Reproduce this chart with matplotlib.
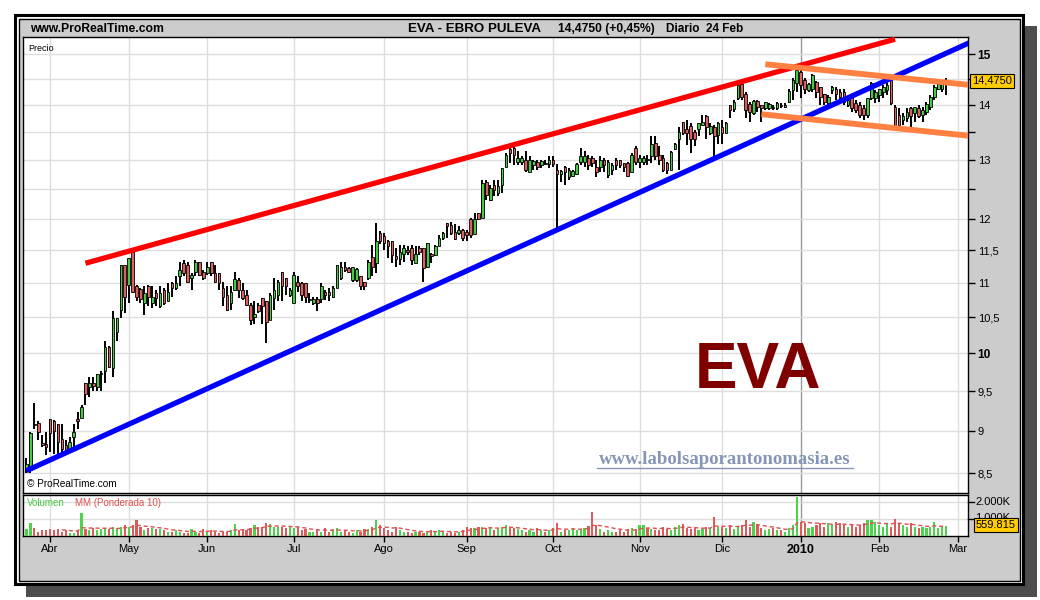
import matplotlib
matplotlib.use('Agg')
import matplotlib.pyplot as plt
import matplotlib.transforms as mtransforms
from matplotlib.patches import Rectangle
from matplotlib.lines import Line2D
import numpy as np
import pandas as pd

plt.rcParams['font.family'] = ['Liberation Sans', 'DejaVu Sans']

# sesiones: EVA diario, 24 mar 2009 - 24 feb 2010
festivos = ['2009-04-10', '2009-04-13', '2009-05-01', '2009-12-24',
            '2009-12-25', '2009-12-31', '2010-01-01']

aperturas = [
    8.54, 8.54, 9.09, 9.10, 8.86, 8.84, 9.15, 9.12, 9.09, 8.90,
    8.83, 8.77, 8.93, 9.15, 9.16, 9.60, 9.55, 9.61, 9.55, 9.72,
    9.76, 10.09, 9.80, 10.30, 10.61, 11.27, 10.97, 11.47, 10.96, 10.91,
    10.70, 10.96, 10.70, 10.86, 10.66, 10.90, 10.73, 11.00, 10.92, 11.11,
    11.30, 11.27, 11.07, 11.17, 11.32, 11.17, 11.15, 11.32, 11.15, 11.15,
    10.92, 10.82, 10.70, 10.90, 11.05, 10.90, 10.82, 10.68, 10.50, 10.68,
    10.78, 10.73, 10.46, 10.78, 10.82, 11.17, 11.07, 10.82, 10.70, 11.02,
    11.00, 11.00, 10.75, 10.70, 10.77, 10.76, 10.87, 10.87, 10.80, 10.92,
    11.07, 11.25, 11.22, 11.04, 11.04, 11.10, 11.02, 11.07, 11.40, 11.30,
    11.77, 11.72, 11.64, 11.64, 11.41, 11.37, 11.45, 11.50, 11.53, 11.31,
    11.53, 11.53, 11.25, 11.44, 11.43, 11.56, 11.69, 11.94, 11.90, 11.79,
    11.78, 11.82, 11.79, 12.00, 11.75, 12.09, 12.02, 12.62, 12.31, 12.57,
    12.43, 12.57, 12.88, 13.19, 13.21, 12.97, 12.97, 13.00, 12.79, 12.91,
    12.97, 12.91, 12.95, 12.93, 13.00, 12.82, 12.75, 12.88, 12.70, 12.72,
    12.76, 12.97, 12.97, 13.03, 13.03, 12.88, 12.88, 13.00, 12.73, 12.82,
    13.00, 13.00, 12.94, 12.94, 12.79, 13.21, 12.97, 12.97, 13.02, 13.06,
    13.30, 13.09, 13.03, 12.94, 12.82, 13.19, 13.38, 13.69, 13.55, 13.61,
    13.50, 13.55, 13.63, 13.79, 13.48, 13.60, 13.45, 13.60, 13.48, 14.00,
    13.93, 14.14, 14.40, 14.22, 14.02, 13.85, 14.08, 14.00, 13.95, 13.94,
    13.97, 13.94, 14.00, 13.97, 14.07, 14.29, 14.42, 14.65, 14.49, 14.29,
    14.32, 14.45, 14.35, 14.21, 14.04, 14.29, 14.32, 14.26, 14.26, 14.00,
    14.16, 14.04, 14.00, 13.94, 13.82, 14.13, 14.13, 14.19, 14.26, 14.29,
    14.49, 13.97, 13.82, 13.72, 13.76, 13.94, 13.85, 13.94, 13.82, 13.88,
    13.97, 14.16, 14.32, 14.32, 14.44,
]
maximos = [
    8.68, 8.99, 9.35, 9.12, 8.95, 8.99, 9.15, 9.14, 9.09, 9.09,
    8.89, 8.93, 9.09, 9.24, 9.32, 9.61, 9.69, 9.69, 9.73, 9.76,
    10.17, 10.10, 10.59, 10.49, 11.27, 11.27, 11.38, 11.48, 10.97, 10.92,
    10.95, 10.97, 10.95, 10.90, 10.95, 10.92, 11.00, 11.01, 11.10, 11.32,
    11.35, 11.32, 11.15, 11.35, 11.32, 11.20, 11.32, 11.32, 11.27, 11.15,
    11.02, 10.95, 10.95, 11.17, 11.07, 11.00, 10.90, 10.70, 10.73, 10.70,
    10.78, 10.73, 10.85, 11.07, 11.05, 11.17, 11.07, 10.92, 11.17, 11.10,
    11.01, 11.00, 10.85, 10.80, 10.80, 11.00, 10.90, 10.92, 10.95, 11.27,
    11.32, 11.32, 11.24, 11.24, 11.22, 11.10, 11.02, 11.35, 11.58, 11.94,
    11.80, 11.77, 11.66, 11.64, 11.53, 11.58, 11.58, 11.56, 11.58, 11.56,
    11.56, 11.53, 11.61, 11.46, 11.58, 11.74, 11.79, 11.94, 11.95, 11.91,
    11.88, 11.84, 11.82, 12.02, 12.09, 12.09, 12.65, 12.65, 12.57, 12.65,
    12.65, 12.85, 13.12, 13.21, 13.24, 13.15, 13.06, 13.15, 13.06, 13.00,
    13.00, 13.00, 13.00, 13.07, 13.07, 12.93, 12.82, 12.89, 12.85, 12.82,
    12.94, 13.21, 13.15, 13.09, 13.06, 13.00, 13.06, 13.03, 13.00, 12.94,
    13.03, 13.00, 12.95, 12.97, 13.12, 13.24, 13.09, 13.06, 13.09, 13.42,
    13.42, 13.24, 13.09, 12.97, 13.15, 13.30, 13.60, 13.69, 13.72, 13.66,
    13.54, 13.66, 13.82, 13.82, 13.66, 13.63, 13.69, 13.72, 13.69, 14.00,
    14.10, 14.42, 14.42, 14.26, 14.07, 14.10, 14.10, 14.00, 14.07, 14.04,
    14.00, 14.07, 14.04, 14.04, 14.32, 14.52, 14.68, 14.68, 14.52, 14.42,
    14.60, 14.47, 14.35, 14.22, 14.19, 14.37, 14.35, 14.32, 14.32, 14.13,
    14.19, 14.10, 14.07, 14.00, 14.13, 14.45, 14.29, 14.32, 14.39, 14.45,
    14.49, 14.00, 13.94, 13.85, 13.94, 13.97, 13.97, 14.00, 13.97, 14.07,
    14.19, 14.39, 14.42, 14.42, 14.52,
]
minimos = [
    8.50, 8.50, 9.03, 8.89, 8.81, 8.71, 8.75, 8.73, 8.73, 8.73,
    8.71, 8.77, 8.81, 9.03, 9.16, 9.32, 9.43, 9.50, 9.50, 9.50,
    9.61, 9.80, 9.69, 10.17, 10.49, 10.56, 10.70, 10.85, 10.73, 10.70,
    10.53, 10.66, 10.63, 10.66, 10.63, 10.68, 10.73, 10.80, 10.90, 10.95,
    11.10, 11.00, 10.90, 11.10, 11.10, 11.05, 11.12, 11.10, 11.00, 10.90,
    10.66, 10.59, 10.61, 10.90, 10.78, 10.75, 10.66, 10.39, 10.41, 10.56,
    10.41, 10.14, 10.46, 10.61, 10.73, 10.73, 10.82, 10.80, 10.70, 10.87,
    10.73, 10.70, 10.70, 10.68, 10.59, 10.70, 10.75, 10.73, 10.78, 10.92,
    11.05, 11.17, 11.15, 11.02, 11.02, 10.90, 10.90, 11.05, 11.10, 11.15,
    11.60, 11.50, 11.38, 11.30, 11.25, 11.27, 11.32, 11.43, 11.27, 11.30,
    11.43, 11.02, 11.22, 11.30, 11.41, 11.56, 11.66, 11.70, 11.74, 11.66,
    11.74, 11.64, 11.64, 11.70, 11.74, 11.98, 12.02, 12.31, 12.29, 12.38,
    12.38, 12.43, 12.88, 12.94, 12.91, 12.91, 12.91, 12.79, 12.79, 12.82,
    12.82, 12.85, 12.91, 12.85, 12.88, 11.82, 12.62, 12.57, 12.65, 12.70,
    12.73, 12.91, 12.88, 12.82, 12.88, 12.70, 12.79, 12.79, 12.68, 12.73,
    12.82, 12.85, 12.79, 12.70, 12.79, 12.91, 12.85, 12.91, 12.91, 12.94,
    13.00, 12.91, 12.79, 12.76, 12.82, 13.17, 12.82, 13.45, 13.26, 13.12,
    13.24, 13.42, 13.63, 13.38, 13.45, 13.06, 13.28, 13.28, 13.48, 13.76,
    13.88, 14.10, 14.10, 13.76, 13.69, 13.82, 13.88, 13.69, 13.91, 13.91,
    13.91, 13.91, 13.94, 13.94, 14.04, 14.10, 14.26, 14.13, 14.22, 14.26,
    14.26, 14.13, 14.00, 14.00, 13.97, 14.22, 14.10, 14.07, 14.00, 13.97,
    13.88, 13.85, 13.76, 13.72, 13.76, 14.10, 14.04, 14.07, 14.13, 14.19,
    14.00, 13.60, 13.60, 13.63, 13.69, 13.60, 13.69, 13.76, 13.69, 13.82,
    13.91, 14.10, 14.29, 14.26, 14.20,
]
cierres = [
    8.61, 8.98, 9.07, 8.99, 8.83, 8.81, 8.98, 9.00, 8.87, 8.79,
    8.77, 8.87, 8.99, 9.12, 9.30, 9.47, 9.61, 9.57, 9.72, 9.74,
    10.09, 9.82, 10.49, 10.49, 11.27, 10.80, 11.38, 10.87, 10.80, 10.76,
    10.85, 10.80, 10.80, 10.78, 10.85, 10.70, 10.87, 10.92, 11.00, 11.20,
    11.15, 11.02, 11.12, 11.32, 11.12, 11.07, 11.25, 11.15, 11.02, 11.00,
    10.80, 10.61, 10.87, 11.06, 10.90, 10.78, 10.68, 10.46, 10.55, 10.59,
    10.66, 10.44, 10.82, 10.90, 11.02, 10.95, 10.95, 10.90, 11.12, 10.95,
    10.82, 10.80, 10.77, 10.77, 10.70, 10.95, 10.82, 10.82, 10.92, 11.27,
    11.25, 11.20, 11.16, 11.24, 11.21, 10.96, 10.95, 11.32, 11.25, 11.64,
    11.64, 11.62, 11.56, 11.43, 11.37, 11.47, 11.53, 11.48, 11.35, 11.44,
    11.48, 11.22, 11.61, 11.41, 11.57, 11.69, 11.77, 11.88, 11.77, 11.67,
    11.82, 11.70, 11.74, 11.74, 12.00, 12.00, 12.59, 12.40, 12.51, 12.48,
    12.54, 12.85, 13.09, 13.12, 13.09, 13.03, 13.04, 12.82, 13.00, 12.98,
    12.88, 12.98, 12.93, 13.00, 12.93, 12.76, 12.81, 12.79, 12.82, 12.81,
    12.93, 13.06, 13.06, 12.91, 12.94, 12.79, 13.00, 12.91, 12.97, 12.91,
    12.91, 12.91, 12.88, 12.71, 13.09, 12.97, 13.03, 13.03, 13.00, 13.28,
    13.06, 13.00, 12.82, 12.82, 13.14, 13.29, 13.50, 13.48, 13.48, 13.38,
    13.38, 13.66, 13.69, 13.60, 13.61, 13.42, 13.66, 13.48, 13.66, 13.91,
    14.07, 14.39, 14.16, 13.91, 13.87, 14.08, 13.97, 13.94, 14.06, 14.02,
    13.95, 14.04, 13.98, 14.00, 14.27, 14.49, 14.68, 14.39, 14.32, 14.40,
    14.58, 14.26, 14.16, 14.07, 14.16, 14.35, 14.22, 14.16, 14.07, 14.10,
    13.94, 13.91, 13.82, 13.82, 14.13, 14.42, 14.26, 14.32, 14.35, 14.39,
    14.04, 13.63, 13.63, 13.79, 13.88, 13.79, 13.97, 13.79, 13.91, 14.02,
    14.16, 14.35, 14.40, 14.41, 14.475,
]
# volumen en miles de titulos
volumen = [
    390, 740, 450, 250, 350, 350,
    390, 350, 390, 250, 350, 190, 200, 350, 1320, 390, 350, 450, 350, 390,
    450, 390, 545, 390, 545, 640,
    545, 640, 930, 545, 350, 450, 450, 390, 390, 350, 250, 250, 350, 250,
    190, 190, 390, 250, 190, 390,
    250, 350, 250, 190, 250, 250, 350, 700, 350, 390, 350, 450, 640, 545,
    545, 740, 700, 545, 545, 545, 450, 545,
    450, 545, 350, 390, 250, 250, 350, 250, 450, 250, 390, 450, 250, 350,
    250, 190, 350, 250, 390, 390, 545, 930, 640,
    450, 350, 250, 545, 350, 250, 250, 190, 250, 250, 190, 250, 350, 250,
    350, 250, 190, 250, 190, 250, 350,
    545, 450, 450, 545, 545, 450, 545, 350, 390, 545, 640, 545, 450, 390,
    350, 250, 350, 250, 450, 350, 250, 350,
    450, 780, 250, 350, 350, 450, 350, 390, 450, 600, 1380, 640, 390, 250,
    350, 250, 250, 350, 250, 390, 450, 390,
    640, 640, 450, 390, 350, 350, 545, 390, 350, 545, 640, 700, 450, 390,
    450, 350, 390, 545, 450, 1120, 545,
    545, 450, 640, 390, 545, 640, 930, 545, 840, 640, 450, 350, 390, 450,
    350, 350, 250, 450, 640, 2270,
    840, 740, 450, 545, 640, 740, 545, 740, 640, 840, 740, 640, 545, 640,
    545, 640, 740, 930, 930, 840,
    640, 545, 740, 545, 980, 740, 640, 545, 740, 545, 450, 545, 450, 545,
    840, 450, 545, 560,
]

meses = ['Abr', 'May', 'Jun', 'Jul', 'Ago', 'Sep', 'Oct', 'Nov', 'Dic',
         '2010', 'Feb', 'Mar']
precios_eje = [8.5, 9, 9.5, 10, 10.5, 11, 11.5, 12, 12.5, 13, 13.5, 14, 14.5, 15]
etiquetas_eje = ['8,5', '9', '9,5', '10', '10,5', '11', '11,5', '12', '', '13',
                 '', '14', '', '15']

# directrices: (fecha inicio, precio), (fecha fin, precio)
directriz_roja = [('2009-04-16', 11.30), ('2010-02-05', 15.31)]
directriz_azul = [('2009-03-24', 8.53), ('2010-03-04', 15.24)]
canal_sup = [('2009-12-16', 14.80), ('2010-03-04', 14.39)]
canal_inf = [('2009-12-15', 13.83), ('2010-03-04', 13.43)]

# ---------------------------------------------------------------
calendario = pd.bdate_range('2009-03-24', '2010-03-05')
calendario = calendario[~calendario.isin(pd.to_datetime(festivos))]
n = len(cierres)
x = np.arange(n)
o = np.array(aperturas)
h = np.array(maximos)
l = np.array(minimos)
c = np.array(cierres)
v = np.array(volumen, dtype=float)

pos_meses = [i for i in range(1, len(calendario))
             if calendario[i].month != calendario[i - 1].month]
idx_2010 = pos_meses[meses.index('2010')]


def a_indice(fecha):
    return calendario.get_loc(pd.Timestamp(fecha))


W, H = 1040, 600
fig = plt.figure(figsize=(W / 100, H / 100), dpi=100)
fig.patch.set_facecolor('white')


def caja(x0, y0, x1, y1):
    return [x0 / W, 1 - y1 / H, (x1 - x0) / W, (y1 - y0) / H]


def rect(x0, y0, x1, y1, **kw):
    fig.add_artist(Rectangle((x0 / W, 1 - y1 / H), (x1 - x0) / W, (y1 - y0) / H,
                             transform=fig.transFigure, **kw))


# marco con sombra
rect(26, 26, 1037, 597, facecolor='#4d4d4d', edgecolor='none', zorder=0)
rect(15, 15, 1023, 584, facecolor='white', edgecolor='black', lw=2.2, zorder=0.1)
rect(19, 19, 1020, 581, facecolor='#cccccc', edgecolor='black', lw=1, zorder=0.2)

fig.text(30 / W, 1 - 29 / H, 'www.ProRealTime.com', fontsize=8.7,
         fontweight='bold', va='center', ha='left')
fig.text(408 / W, 1 - 29 / H, 'EVA - EBRO PULEVA', fontsize=9.6,
         fontweight='bold', va='center', ha='left')
fig.text(558 / W, 1 - 29 / H, '14,4750 (+0,45%)', fontsize=8.7,
         fontweight='bold', va='center', ha='left')
fig.text(666 / W, 1 - 29 / H, 'Diario  24 Feb', fontsize=8.5,
         fontweight='bold', va='center', ha='left')

# ----- panel de precio -----
ax = fig.add_axes(caja(23, 37, 968, 492.7))
ax.set_zorder(1)
ax.set_facecolor('white')
ax.set_yscale('log')
ax.set_xlim(-0.89, 239.57)
ax.set_ylim(8.279, 15.356)

for xm in pos_meses:
    ax.axvline(xm, color='#999999' if xm == idx_2010 else '#dddddd',
               lw=1, zorder=1)
for p in precios_eje:
    ax.axhline(p, color='#dddddd', lw=1, zorder=1)

verde, rojo = '#48c848', '#dc6060'
alcista = c >= o
ax.vlines(x, l, h, color='black', lw=1.4, zorder=3)
base = np.minimum(o, c)
alto = np.maximum(np.abs(c - o), 0.012)
ax.bar(x, alto, bottom=base, width=0.66,
       color=np.where(alcista, verde, rojo), edgecolor='black', lw=0.6, zorder=4)

for linea, col, lw in [(directriz_roja, '#ff0000', 3.8), (directriz_azul, '#0000ff', 3.8),
                       (canal_sup, '#ff8040', 4.2), (canal_inf, '#ff8040', 4.2)]:
    xs = [a_indice(f) for f, _ in linea]
    ys = [p for _, p in linea]
    ax.plot(xs, ys, color=col, lw=lw, solid_capstyle='butt', zorder=5)

ax.yaxis.tick_right()
ax.yaxis.set_major_locator(matplotlib.ticker.FixedLocator(precios_eje))
ax.yaxis.set_major_formatter(matplotlib.ticker.FixedFormatter(etiquetas_eje))
ax.yaxis.set_minor_locator(matplotlib.ticker.NullLocator())
ax.tick_params(axis='y', direction='out', length=5, width=1, pad=2,
               labelsize=8, colors='black')
for t in ax.get_yticklabels():
    if t.get_text() in ('10', '15'):
        t.set_fontweight('bold')
        t.set_fontsize(8.6)
ax.set_xticks([])
for s in ax.spines.values():
    s.set_color('black')
    s.set_linewidth(1)

mezcla = mtransforms.blended_transform_factory(ax.transAxes, ax.transData)
ax.text(1.004, c[-1], '14,4750', transform=mezcla, fontsize=8, ha='left',
        va='center', zorder=10,
        bbox=dict(boxstyle='square,pad=0.18', fc='#ffcc00', ec='black', lw=0.8))

ax.text(0.006, 0.985, 'Precio', transform=ax.transAxes, fontsize=6.5,
        ha='left', va='top')
ax.text(0.004, 0.008, '\u00a9 ProRealTime.com', transform=ax.transAxes,
        fontsize=7.2, ha='left', va='bottom')

fig.text(758 / W, 1 - 371 / H, 'EVA', fontsize=46, fontweight='bold',
         color='#800000', ha='center', va='center', zorder=5)
fig.text(725 / W, 1 - 460 / H, 'www.labolsaporantonomasia.es',
         family=['Liberation Serif', 'DejaVu Serif'], fontsize=13.5,
         fontweight='bold', color='#8696b6', ha='center', va='center', zorder=5)
fig.add_artist(Line2D([597 / W, 853 / W], [1 - 468 / H, 1 - 468 / H],
                      color='#8696b6', lw=1, transform=fig.transFigure, zorder=5))

# ----- panel de volumen -----
axv = fig.add_axes(caja(23, 495, 968, 536))
axv.set_zorder(1)
axv.set_facecolor('white')
axv.set_xlim(-0.89, 239.57)
axv.set_ylim(0, 2390)
for xm in pos_meses:
    axv.axvline(xm, color='#999999' if xm == idx_2010 else '#dddddd',
                lw=1, zorder=1)
for vv in (1000, 2000):
    axv.axhline(vv, color='#dddddd', lw=1, zorder=1)

axv.bar(x, v, width=0.55, color=np.where(alcista, '#4cd24c', '#dc5c5c'), zorder=3)
pesos = np.arange(1, 11)
mm = np.full(n, np.nan)
for i in range(9, n):
    mm[i] = np.dot(v[i - 9:i + 1], pesos) / pesos.sum()
axv.plot(x, mm, color='#e05050', lw=1, dashes=(3, 2), zorder=4)

axv.set_yticks([])
axv.set_xticks(pos_meses)
axv.set_xticklabels(meses)
axv.tick_params(axis='x', direction='out', length=4, width=1, pad=2,
                labelsize=8, colors='black')
for t in axv.get_xticklabels():
    if t.get_text() == '2010':
        t.set_fontweight('bold')
        t.set_fontsize(9)
for s in axv.spines.values():
    s.set_color('black')
    s.set_linewidth(1)

mezcla_v = mtransforms.blended_transform_factory(axv.transAxes, axv.transData)
axv.plot([1.0, 1.006], [2000, 2000], color='black', lw=1, transform=mezcla_v,
         clip_on=False)
axv.plot([1.0, 1.006], [1000, 1000], color='black', lw=1, transform=mezcla_v,
         clip_on=False)
axv.text(1.008, 2000, '2.000K', transform=mezcla_v, fontsize=8, ha='left',
         va='center')
axv.text(1.008, 1060, '1.000K', transform=mezcla_v, fontsize=8, ha='left',
         va='center')
axv.text(1.008, v[-1] + 100, '559.815', transform=mezcla_v, fontsize=8,
         ha='left', va='center', zorder=10,
         bbox=dict(boxstyle='square,pad=0.18', fc='#ffcc00', ec='black', lw=0.8))
axv.text(0.004, 0.93, 'Volumen', transform=axv.transAxes, fontsize=7,
         color='#44cc44', ha='left', va='top')
axv.text(0.055, 0.93, 'MM (Ponderada 10)', transform=axv.transAxes, fontsize=7,
         color='#e05050', ha='left', va='top')

fig.savefig('out.png', dpi=100, facecolor='white')
